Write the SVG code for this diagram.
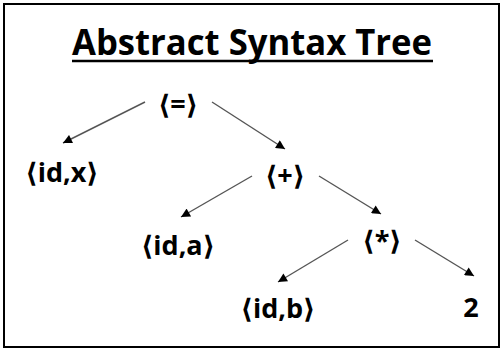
<svg xmlns="http://www.w3.org/2000/svg" width="503" height="351" viewBox="0 0 503 351">
<style>
.t{font-family:"Open Sans","DejaVu Sans",sans-serif;font-weight:bold;fill:#000}
.n{font-size:27px;text-anchor:middle}
.e{stroke:#555;stroke-width:1.4;fill:none;marker-end:url(#ah)}
</style>
<defs>
<marker id="ah" viewBox="0 0 10 10" refX="10" refY="5" markerWidth="10" markerHeight="9" markerUnits="userSpaceOnUse" orient="auto">
<path d="M0,0 L10,5 L0,10 Z" fill="#000"/>
</marker>
</defs>
<rect x="0" y="0" width="503" height="351" fill="#fff"/>
<rect x="4" y="4" width="495" height="343" fill="#fff" stroke="#000" stroke-width="2"/>
<g id="title">
<text class="t" x="252" y="55" font-size="35" text-anchor="middle" textLength="360" lengthAdjust="spacingAndGlyphs">Abstract Syntax Tree</text>
<line x1="72" y1="61" x2="433" y2="61" stroke="#000" stroke-width="2.5"/>
</g>
<g id="connectors">
<line class="e" x1="145" y1="102" x2="63" y2="143"/>
<line class="e" x1="212" y1="102" x2="285" y2="149"/>
<line class="e" x1="252" y1="176" x2="181" y2="217"/>
<line class="e" x1="319" y1="176" x2="381" y2="214"/>
<line class="e" x1="348" y1="240" x2="278" y2="282"/>
<line class="e" x1="415" y1="240" x2="474" y2="276"/>
</g>
<g id="n_eq"><text class="t n" x="178" y="114">⟨=⟩</text></g>
<g id="n_idx"><text class="t n" x="62" y="182">⟨id,x⟩</text></g>
<g id="n_plus"><text class="t n" x="285" y="185">⟨+⟩</text></g>
<g id="n_ida"><text class="t n" x="178" y="255">⟨id,a⟩</text></g>
<g id="n_mul"><text class="t n" x="382" y="250">⟨*⟩</text></g>
<g id="n_idb"><text class="t n" x="278" y="318">⟨id,b⟩</text></g>
<g id="n_2"><text class="t n" x="471" y="317">2</text></g>
</svg>
